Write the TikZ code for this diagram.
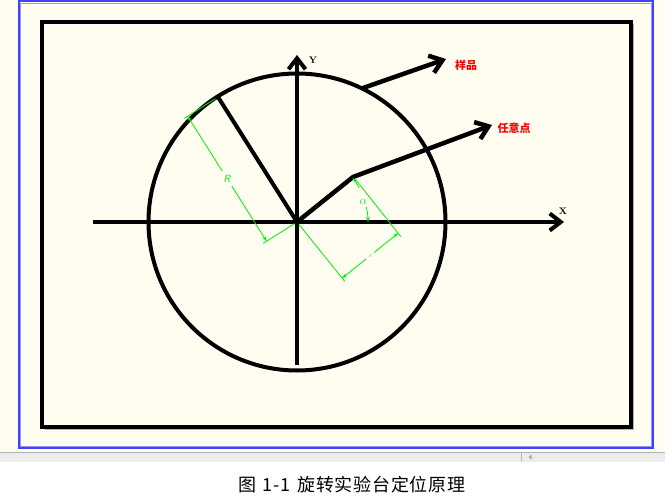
\documentclass[tikz,border=0pt]{standalone}
\usepackage{fontspec}
\newfontfamily\cjk{Noto Sans CJK SC}
\newfontfamily\capfont[LetterSpace=4]{Noto Sans CJK SC}
\usetikzlibrary{arrows.meta,calc}
\definecolor{cream}{RGB}{255,252,240}
\definecolor{bardk}{RGB}{64,64,255}
\definecolor{barlt}{RGB}{150,150,255}
\definecolor{stripgray}{RGB}{236,236,236}
\definecolor{dimgreen}{RGB}{0,240,0}
\definecolor{lblred}{RGB}{255,0,0}
\tikzset{
  thickline/.style={line width=4pt, line cap=round, line join=round},
  arrowline/.style={line width=4.5pt, line cap=round, line join=round, -{Straight Barb[length=12pt,width=18pt]}},
  dimline/.style={dimgreen, line width=0.8pt},
  dimarrow/.style={dimgreen, line width=0.8pt, -{Stealth[length=5pt,width=3.5pt]}},
  redlabel/.style={text=lblred, font=\cjk\bfseries\fontsize{11}{11}\selectfont, inner sep=0pt},
  axislabel/.style={font=\bfseries\fontsize{9.5}{9.5}\selectfont, inner sep=0pt},
  greenlabel/.style={text=dimgreen, inner sep=0pt}
}
\begin{document}
\begin{tikzpicture}[x=1pt,y=-1pt]
\useasboundingbox (0,0) rectangle (665,500);
% window background
\fill[white] (0,0) rectangle (665,500);
\fill[cream] (0,0) rectangle (665,452);
\fill[stripgray] (0,452) rectangle (665,461.5);
\draw[gray!60, line width=0.8pt] (0,452.4) -- (665,452.4);
\draw[gray!55, line width=0.8pt] (521,453) -- (521,461.5);
\fill[gray!70] (528.5,457) -- (531.5,454.5) -- (531.5,459.5) -- cycle;
% blue border
\draw[bardk, line width=1.6pt] (18.8,1.3) rectangle (653.2,448.2);
\draw[barlt, line width=1pt] (20.6,3.1) rectangle (651.4,446.4);
% black frame
\draw[gray!60, line width=1pt] (44.5,429.5) -- (633.5,429.5) -- (633.5,24.5);
\draw[line width=4pt] (42,22) rectangle (631,427);
% coordinates
\coordinate (O) at (297,222);
\coordinate (P) at (218,97);
\coordinate (Q) at (353,177);
\coordinate (S) at (363,88);
\coordinate (T1) at (446,59);
\coordinate (T2) at (492,125);
\coordinate (XL) at (93,222);
\coordinate (XR) at (564,222);
\coordinate (YB) at (297,365);
\coordinate (YT) at (297,55);
% circle and axes
\draw[thickline] (O) circle[radius=148.5pt];
\draw[line width=4pt, -{Straight Barb[length=11pt,width=17pt]}] (XL) -- (XR);
\draw[line width=4pt, -{Straight Barb[length=11pt,width=17pt]}] (YB) -- (YT);
\node[axislabel] (xlab) at (563,211) {X};
\node[axislabel] (ylab) at (313,60) {Y};
% radius line
\draw[thickline] (O) -- (P);
% sample arrow and arbitrary-point arrow
\draw[arrowline] (S) -- (T1);
\draw[arrowline] (O) -- (Q) -- (T2);
\node[redlabel] (yp) at (466,65) {样品};
\node[redlabel] (ry) at (514,128) {任意点};
% R dimension
\coordinate (Pe1) at (215.5,98.6);
\coordinate (Pe2) at (184.2,118.4);
\coordinate (Oe1) at (294.5,223.6);
\coordinate (Oe2) at (263.2,243.4);
\coordinate (Rd1) at (187.6,116.2);
\coordinate (Rd2) at (266.6,241.2);
\coordinate (Rm) at (227.1,178.7);
\draw[dimline] (Pe1) -- (Pe2);
\draw[dimline] (Oe1) -- (Oe2);
\draw[dimarrow] ($(Rm)!9pt!(Rd1)$) -- (Rd1);
\draw[dimarrow] ($(Rm)!9pt!(Rd2)$) -- (Rd2);
\node[greenlabel, font=\sffamily\itshape\fontsize{10.5}{10.5}\selectfont] (Rlab) at (Rm) {R};
% r dimension
\coordinate (Qe1) at (355.5,179.3);
\coordinate (Qe2) at (401,237);
\coordinate (Oe3) at (298.9,224.3);
\coordinate (Oe4) at (344.7,281.3);
\coordinate (rd1) at (342.1,278.2);
\coordinate (rd2) at (398.1,233.2);
\coordinate (rm) at (370.1,255.7);
\draw[dimline] (Qe1) -- (Qe2);
\draw[dimline] (Oe3) -- (Oe4);
\draw[dimarrow] ($(rm)!5pt!(rd1)$) -- (rd1);
\draw[dimarrow] ($(rm)!5pt!(rd2)$) -- (rd2);
\node[greenlabel, font=\sffamily\itshape\fontsize{6}{6}\selectfont] (rlab) at (rm) {r};
% alpha angle
\draw[dimline, -{Stealth[length=5pt,width=3.5pt]}] ($(O)+(-29:71)$) arc[start angle=-29, end angle=-38.5, radius=71];
\draw[dimline, -{Stealth[length=5pt,width=3.5pt]}] ($(O)+(-12:71)$) arc[start angle=-12, end angle=0, radius=71];
\node[greenlabel, font=\fontsize{12}{12}\selectfont] (alab) at (363.5,201.5) {$\alpha$};
% caption
\node[font=\capfont\fontsize{18}{18}\selectfont, inner sep=0pt] (cap) at (352,485) {图\hspace{6pt}1-1\hspace{7pt}旋转实验台定位原理};
\end{tikzpicture}
\end{document}
